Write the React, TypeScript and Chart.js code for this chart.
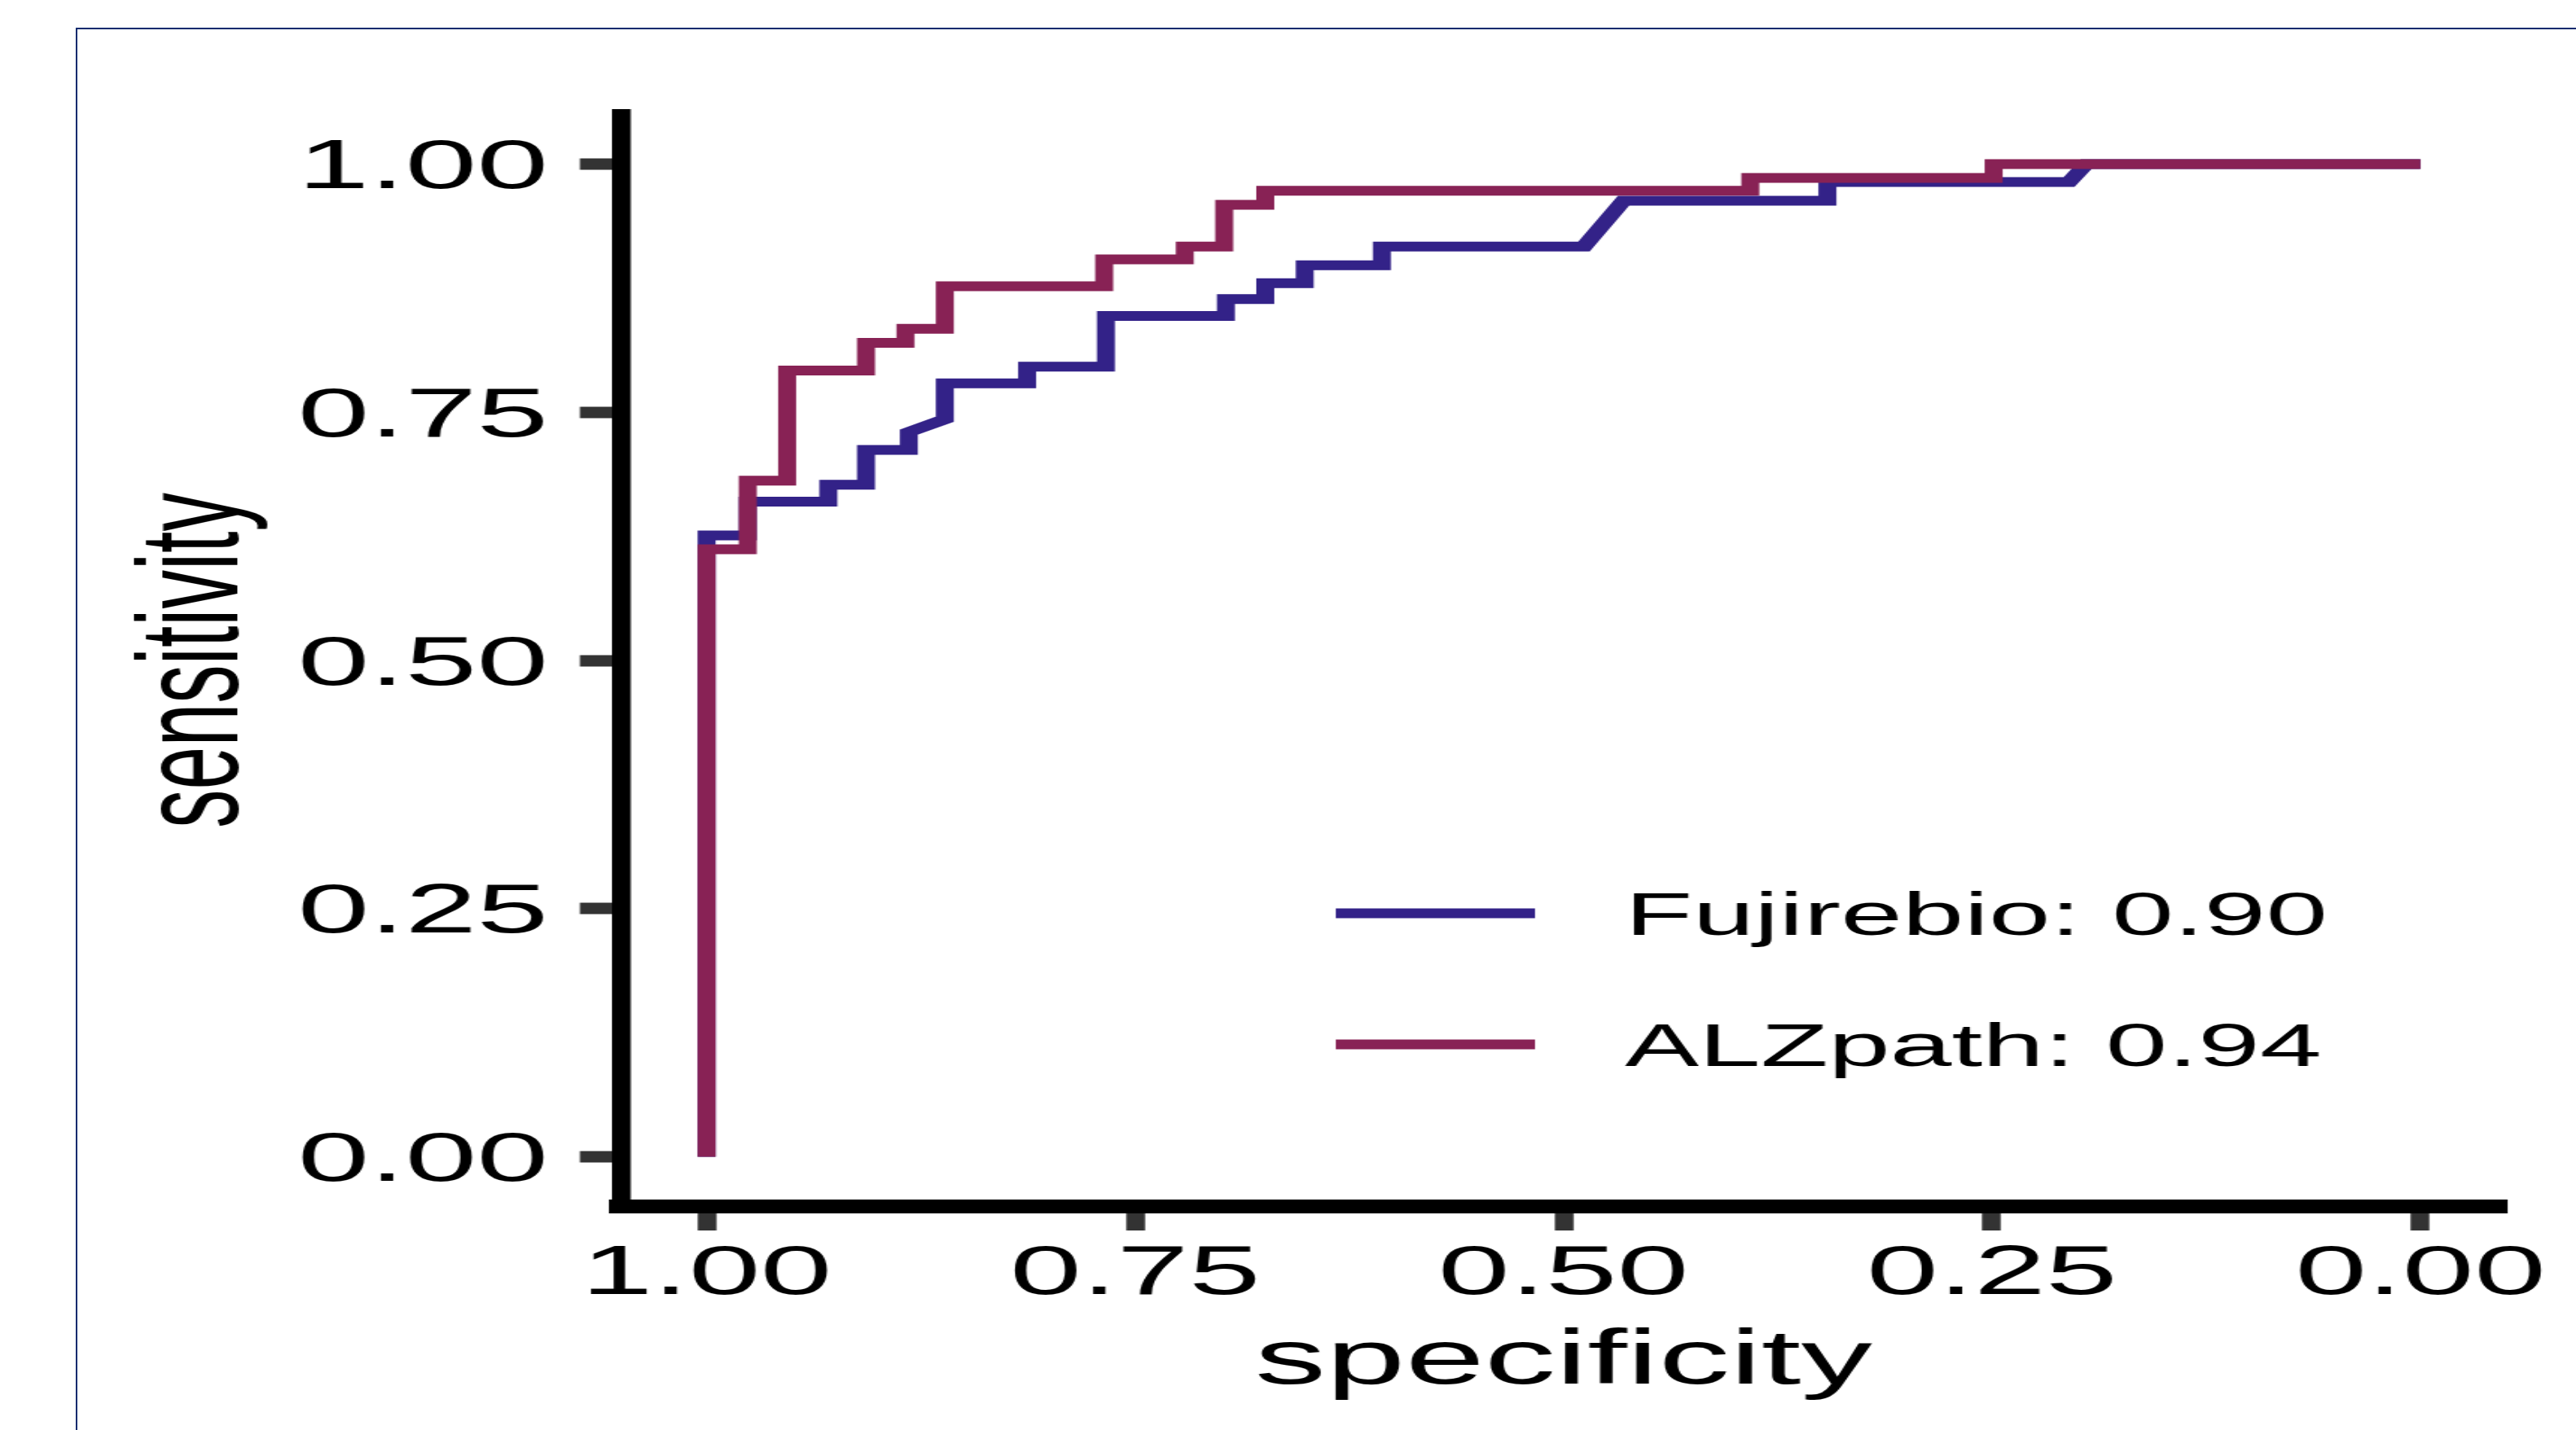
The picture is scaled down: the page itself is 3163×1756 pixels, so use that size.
import React, { useEffect, useRef } from 'react';
import { Chart, registerables } from 'chart.js';

Chart.register(...registerables);

// ---------------- data ----------------
const SERIES_NAMES = ['Fujirebio', 'ALZpath'];
const AUC_VALUES = [0.9, 0.94];
const SERIES_COLORS = ['#332288', '#882255'];

const FUJIREBIO_SPECIFICITY = [1.0, 1.0, 0.976, 0.976, 0.929, 0.929, 0.907, 0.907, 0.882, 0.882, 0.861, 0.861, 0.813, 0.813, 0.767, 0.767, 0.697, 0.697, 0.674, 0.674, 0.651, 0.651, 0.606, 0.606, 0.488, 0.465, 0.346, 0.346, 0.205, 0.195, 0.0];
const FUJIREBIO_SENSITIVITY = [0.0, 0.626, 0.626, 0.66, 0.66, 0.677, 0.677, 0.712, 0.712, 0.73, 0.743, 0.779, 0.779, 0.796, 0.796, 0.847, 0.847, 0.864, 0.864, 0.88, 0.88, 0.898, 0.898, 0.917, 0.917, 0.963, 0.963, 0.982, 0.982, 1.0, 1.0];

const ALZPATH_SPECIFICITY = [1.0, 1.0, 0.976, 0.976, 0.953, 0.953, 0.907, 0.907, 0.884, 0.884, 0.861, 0.861, 0.768, 0.768, 0.721, 0.721, 0.698, 0.698, 0.674, 0.674, 0.391, 0.391, 0.249, 0.249, 0.0];
const ALZPATH_SENSITIVITY = [0.0, 0.612, 0.612, 0.681, 0.681, 0.792, 0.792, 0.82, 0.82, 0.834, 0.834, 0.877, 0.877, 0.904, 0.904, 0.917, 0.917, 0.959, 0.959, 0.973, 0.973, 0.986, 0.986, 1.0, 1.0];

const X_TICKS = [0, 0.25, 0.5, 0.75, 1];
const Y_TICKS = [0, 0.25, 0.5, 0.75, 1];
const AXIS_MIN = -0.05;
const AXIS_MAX = 1.05;
const X_TITLE = 'specificity';
const Y_TITLE = 'sensitivity';

// ---------------- layout / style ----------------
const STRETCH = 1.84;
const CANVAS_W = 1710;
const CANVAS_H = 1740;
const FONT_FAMILY = '"Liberation Sans", Arial, Helvetica, sans-serif';
const LINE_WIDTH = 12;

const toPoints = (xs: number[], ys: number[]) => xs.map((x, i) => ({ x, y: ys[i] }));

const insideLegend = {
  id: 'insideLegend',
  afterDatasetsDraw(chart: any) {
    const { ctx, chartArea } = chart;
    const lineStart = chartArea.left + 477;
    const lineEnd = chartArea.left + 610;
    const textX = chartArea.left + 670;
    const firstRow = chartArea.top + 981;
    const rowGap = 161;
    ctx.save();
    chart.data.datasets.forEach((ds: any, i: number) => {
      const y = firstRow + i * rowGap;
      ctx.beginPath();
      ctx.lineCap = 'butt';
      ctx.lineWidth = ds.borderWidth;
      ctx.strokeStyle = ds.borderColor;
      ctx.moveTo(lineStart, y);
      ctx.lineTo(lineEnd, y);
      ctx.stroke();
      ctx.font = `74px ${FONT_FAMILY}`;
      ctx.fillStyle = '#000000';
      ctx.textAlign = 'left';
      ctx.textBaseline = 'middle';
      ctx.fillText(ds.label, textX, y + 6);
    });
    ctx.restore();
  },
};

export default function App() {
  const ref = useRef<HTMLCanvasElement>(null);

  useEffect(() => {
    const canvas = ref.current;
    if (!canvas) return;
    const tickFont = { family: FONT_FAMILY, size: 86, lineHeight: 1 };
    const titleFont = { family: FONT_FAMILY, size: 95, lineHeight: 1 };
    const chart = new Chart(canvas, {
      type: 'line',
      data: {
        datasets: [
          {
            label: `${SERIES_NAMES[0]}: ${AUC_VALUES[0].toFixed(2)}`,
            data: toPoints(FUJIREBIO_SPECIFICITY, FUJIREBIO_SENSITIVITY),
            borderColor: SERIES_COLORS[0],
            backgroundColor: SERIES_COLORS[0],
            borderWidth: LINE_WIDTH,
            pointRadius: 0,
            fill: false,
            tension: 0,
            borderJoinStyle: 'miter',
            borderCapStyle: 'butt',
            order: 1,
          },
          {
            label: `${SERIES_NAMES[1]}: ${AUC_VALUES[1].toFixed(2)}`,
            data: toPoints(ALZPATH_SPECIFICITY, ALZPATH_SENSITIVITY),
            borderColor: SERIES_COLORS[1],
            backgroundColor: SERIES_COLORS[1],
            borderWidth: LINE_WIDTH,
            pointRadius: 0,
            fill: false,
            tension: 0,
            borderJoinStyle: 'miter',
            borderCapStyle: 'butt',
            order: 0,
          },
        ],
      },
      options: {
        animation: false,
        responsive: false,
        devicePixelRatio: 1,
        layout: { padding: { left: 0, right: 42, top: 132.5, bottom: 6.5 } },
        plugins: {
          legend: { display: false },
          tooltip: { enabled: false },
        },
        scales: {
          x: {
            type: 'linear',
            reverse: true,
            bounds: 'data',
            min: AXIS_MIN,
            max: AXIS_MAX,
            afterBuildTicks: (s: any) => {
              s.ticks = X_TICKS.map((v) => ({ value: v }));
            },
            afterFit: (s: any) => {
              s.height = 260;
            },
            ticks: {
              callback: (v: any) => Number(v).toFixed(2),
              font: tickFont,
              color: '#000000',
              padding: 11,
              autoSkip: false,
              maxRotation: 0,
              minRotation: 0,
            },
            grid: {
              display: true,
              drawOnChartArea: false,
              drawTicks: true,
              tickLength: 29.5,
              tickWidth: 12.5,
              tickColor: '#333333',
            },
            border: { display: true, color: '#000000', width: 17 },
            title: {
              display: true,
              text: X_TITLE,
              font: titleFont,
              color: '#000000',
              padding: { top: 0, bottom: 21 },
            },
          },
          y: {
            type: 'linear',
            bounds: 'data',
            min: AXIS_MIN,
            max: AXIS_MAX,
            afterBuildTicks: (s: any) => {
              s.ticks = Y_TICKS.map((v) => ({ value: v }));
            },
            afterFit: (s: any) => {
              s.width = 410;
            },
            ticks: {
              callback: (v: any) => Number(v).toFixed(2),
              font: tickFont,
              color: '#000000',
              padding: 21,
              labelOffset: 6,
              autoSkip: false,
            },
            grid: {
              display: true,
              drawOnChartArea: false,
              drawTicks: true,
              tickLength: 27.4,
              tickWidth: 14,
              tickColor: '#333333',
            },
            border: { display: true, color: '#000000', width: 12.5 },
            title: {
              display: true,
              text: Y_TITLE,
              font: titleFont,
              color: '#000000',
              padding: { top: 80, bottom: 0 },
            },
          },
        },
      } as any,
      plugins: [insideLegend],
    } as any);
    return () => chart.destroy();
  }, []);

  return (
    <div style={{ position: 'relative', width: 3147, height: 1740, overflow: 'hidden', background: '#ffffff' }}>
      <div
        style={{
          position: 'fixed',
          left: 93,
          top: 34,
          width: 3300,
          height: 1900,
          borderLeft: '2px solid #0b2a6e',
          borderTop: '2px solid #0b2a6e',
          pointerEvents: 'none',
        }}
      />
      <div
        style={{
          position: 'absolute',
          left: 0,
          top: 0,
          width: CANVAS_W,
          height: CANVAS_H,
          transform: `scaleX(${STRETCH})`,
          transformOrigin: '0 0',
        }}
      >
        <canvas
          ref={ref}
          width={CANVAS_W}
          height={CANVAS_H}
          style={{ display: 'block', width: CANVAS_W, height: CANVAS_H }}
        />
      </div>
    </div>
  );
}
